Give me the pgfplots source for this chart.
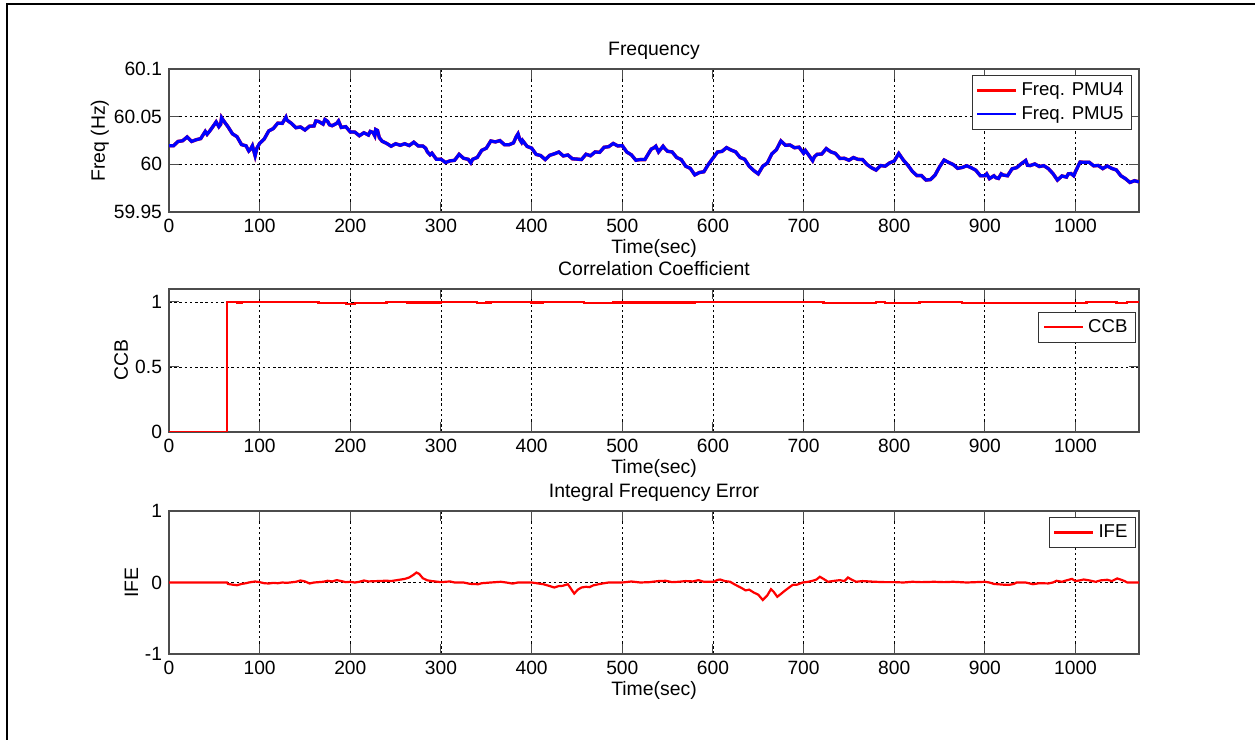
\documentclass[border=0pt]{standalone}
\usepackage{pgfplots}
\usepackage{pgfplotstable}
\pgfplotsset{compat=1.18}
\usepackage{fontspec}
\setmainfont{Liberation Sans}

% frequency of PMU4 / PMU5 (the two traces overlap)
\pgfplotstableread{
t f
0 60.0195
5 60.0195
10 60.0240
15 60.0247
20 60.0287
25 60.0240
30 60.0258
35 60.0270
40 60.0345
42 60.0315
45 60.0350
50 60.0417
52 60.0445
55 60.0395
57 60.0420
58 60.0490
60 60.0460
65 60.0395
70 60.0320
75 60.0290
80 60.0207
85 60.0194
88 60.0140
90 60.0160
92 60.0195
95 60.0090
97 60.0170
100 60.0220
105 60.0265
110 60.0350
115 60.0375
120 60.0432
125 60.0430
129 60.0495
130 60.0465
135 60.0430
140 60.0384
145 60.0392
150 60.0360
155 60.0400
160 60.0402
162 60.0455
165 60.0450
170 60.0422
172 60.0470
175 60.0450
177 60.0415
180 60.0405
185 60.0430
187 60.0455
190 60.0387
195 60.0395
200 60.0340
205 60.0338
210 60.0300
215 60.0331
220 60.0307
222 60.0345
225 60.0335
227 60.0300
228 60.0365
230 60.0355
232 60.0280
235 60.0243
240 60.0220
245 60.0190
250 60.0216
255 60.0200
260 60.0216
265 60.0197
270 60.0232
275 60.0193
280 60.0192
283 60.0170
285 60.0131
288 60.0100
290 60.0117
295 60.0053
300 60.0054
305 60.0019
310 60.0036
315 60.0042
320 60.0105
325 60.0063
330 60.0053
333 60.0015
335 60.0053
340 60.0072
345 60.0147
350 60.0169
355 60.0245
360 60.0235
365 60.0249
370 60.0206
375 60.0205
380 60.0225
383 60.0290
385 60.0320
387 60.0260
389 60.0230
390 60.0250
395 60.0188
400 60.0170
405 60.0104
410 60.0092
415 60.0050
420 60.0095
425 60.0110
430 60.0129
435 60.0088
440 60.0098
445 60.0058
450 60.0055
455 60.0050
460 60.0106
465 60.0090
470 60.0130
475 60.0126
480 60.0179
485 60.0185
490 60.0219
495 60.0193
500 60.0196
505 60.0129
510 60.0100
515 60.0043
520 60.0050
525 60.0050
530 60.0130
532 60.0160
535 60.0174
537 60.0190
540 60.0130
545 60.0190
547 60.0165
550 60.0137
555 60.0130
560 60.0072
565 60.0050
570 59.9980
575 59.9958
580 59.9889
585 59.9914
590 59.9922
595 60.0000
600 60.0064
605 60.0129
610 60.0136
615 60.0175
620 60.0150
625 60.0131
630 60.0072
635 60.0053
640 59.9980
645 59.9935
650 59.9900
655 59.9980
660 60.0013
665 60.0110
670 60.0153
675 60.0245
680 60.0200
685 60.0203
690 60.0174
695 60.0180
700 60.0116
702 60.0145
705 60.0106
710 60.0038
712 60.0080
715 60.0105
720 60.0108
722 60.0130
725 60.0165
730 60.0131
735 60.0115
740 60.0062
745 60.0063
750 60.0043
755 60.0071
760 60.0052
765 60.0050
770 59.9998
775 59.9964
780 59.9940
785 59.9987
790 59.9981
795 60.0015
800 60.0035
805 60.0114
810 60.0045
815 59.9991
820 59.9926
825 59.9882
830 59.9882
835 59.9835
840 59.9840
845 59.9887
850 59.9974
855 60.0045
860 60.0020
865 59.9998
870 59.9958
875 59.9967
880 59.9985
885 59.9964
890 59.9938
895 59.9880
900 59.9880
902 59.9900
905 59.9850
910 59.9880
912 59.9860
915 59.9852
918 59.9900
920 59.9888
925 59.9880
930 59.9953
935 59.9965
940 60.0005
945 60.0040
947 59.9990
950 59.9987
955 60.0004
960 59.9977
965 59.9986
970 59.9955
975 59.9904
980 59.9835
985 59.9878
990 59.9866
992 59.9900
995 59.9903
998 59.9880
1000 59.9925
1005 60.0024
1010 60.0021
1015 60.0022
1020 59.9984
1025 59.9988
1030 59.9955
1035 59.9983
1040 59.9957
1045 59.9941
1050 59.9880
1055 59.9850
1060 59.9810
1065 59.9828
1070 59.9816
}\freqdata

% correlation coefficient, piecewise constant
\pgfplotstableread{
t c
0 0
64 1.0
75 0.995
80 1.0
165 0.993
195 0.985
205 0.993
240 1.0
263 0.995
300 1.0
340 0.99
350 0.995
355 1.0
400 0.995
412 1.0
458 0.99
490 0.995
580 1.0
722 0.993
780 1.0
790 0.993
828 1.0
875 0.993
1012 1.0
1045 0.99
1057 1.0
1070 1.0
}\ccbdata

% integral frequency error
\pgfplotstableread{
t e
0 0
64 0
65 -0.02
70 -0.03
75 -0.038
80 -0.02
85 -0.01
88 0
95 0.014
100 0.005
105 -0.01
110 -0.014
115 -0.005
120 -0.01
125 0
130 -0.005
140 0.01
145 0.028
150 0.015
155 -0.014
160 0
170 0.01
175 0.024
180 0.015
185 0.033
190 0.02
195 0.005
200 0.01
205 0
210 0.01
215 0.028
220 0.015
230 0.02
240 0.025
245 0.02
250 0.03
256 0.042
260 0.05
265 0.07
270 0.11
273 0.14
276 0.12
280 0.06
285 0.03
290 0.02
300 0.005
305 0.01
310 0.015
315 0
325 0
332 -0.019
341 -0.024
345 -0.01
355 0
366 0.01
372 0
379 -0.015
385 0
400 0
413 -0.024
420 -0.05
425 -0.07
430 -0.05
434 -0.047
440 -0.024
443 -0.08
447 -0.155
451 -0.1
455 -0.07
460 -0.06
464 -0.065
468 -0.04
474 -0.024
480 -0.01
485 0
500 0
510 0.014
520 0
530 0.005
540 0.02
548 0.024
555 0.005
562 0.01
570 0.02
578 0.015
584 0.033
590 0.01
601 0.01
605 0.035
608 0.042
613 0.02
619 0.01
623 -0.02
627 -0.047
632 -0.08
636 -0.11
640 -0.1
645 -0.14
650 -0.17
655 -0.245
660 -0.18
664 -0.094
667 -0.13
671 -0.2
675 -0.16
679 -0.118
683 -0.08
688 -0.033
693 -0.03
699 0
705 0.01
710 0.024
714 0.04
718 0.08
722 0.05
727 0.01
732 0.02
740 0.033
745 0.02
749 0.07
753 0.04
758 0.01
765 0.02
772 0.015
779 0.01
790 0.005
801 0.005
810 0
820 0.01
830 0.005
844 0.01
855 0.005
865 0.01
880 0
890 0.005
900 0.01
905 0
910 -0.02
914 -0.024
920 -0.03
927 -0.033
932 -0.02
935 0
945 0
953 -0.024
960 -0.01
970 -0.013
975 0
979 0.024
985 0.01
990 0.03
996 0.05
1000 0.02
1005 0.03
1009 0.042
1015 0.03
1022 0.01
1028 0.03
1035 0.038
1040 0.02
1046 0.057
1050 0.04
1054 0.02
1057 0
1070 0
}\ifedata

\pgfplotsset{
  matlab/.style={
    scale only axis,
    width=485pt, height=71.5pt,
    anchor=south west,
    xmin=0, xmax=1070,
    xtick={0,100,...,1000},
    grid=major,
    grid style={black, line width=0.4pt, dash pattern=on 1.3pt off 1.3pt},
    axis line style={black!70, line width=0.6pt},
    major tick style={black!70, line width=0.5pt},
    major tick length=4.8pt,
    tick align=inside,
    xtick pos=both, ytick pos=both,
    tick label style={font=\fontsize{9.6}{11}\selectfont, /pgf/number format/assume math mode=true},
    /pgf/number format/1000 sep={},
    label style={font=\fontsize{9.7}{11}\selectfont},
    title style={font=\fontsize{9.7}{11}\selectfont, at={(0.5,1)}, anchor=base, yshift=0.7pt},
    xlabel={Time(sec)},
    xlabel style={at={(axis description cs:0.5,0)}, anchor=base, yshift=-20.8pt},
    legend style={font=\fontsize{9.3}{11}\selectfont, draw=black!80, line width=0.5pt,
      fill=white, inner xsep=2pt, inner ysep=1.5pt, cells={anchor=west}, anchor=north east},
    legend image code/.code={\draw[#1, line width=1.2pt] (0pt,0pt) -- (19.5pt,0pt);},
  }
}

\begin{document}
\begin{tikzpicture}
\path[use as bounding box] (0,0) rectangle (627.5pt,370pt);
\draw[line width=0.85pt] (3.35pt,0pt) -- (3.35pt,368pt) -- (627.5pt,368pt);

% Frequency
\begin{axis}[matlab,
    at={(84.5pt,264pt)},
    ymin=59.95, ymax=60.1,
    ytick={59.95,60,60.05,60.1},
    yticklabels={59.95,60,60.05,60.1},
    ylabel={Freq (Hz)},
    ylabel style={at={(axis description cs:-0.066,0.5)}, anchor=base},
    title={Frequency},
    legend style={at={(0.9928,0.958)}},
  ]
  \addplot[red, line width=1.7pt] table[x=t, y=f] {\freqdata};
  \addlegendentry{Freq. PMU4}
  \addplot[blue, line width=1.6pt] table[x=t, y=f] {\freqdata};
  \addlegendentry{Freq. PMU5}
\end{axis}

% Correlation coefficient
\begin{axis}[matlab,
    at={(84.5pt,154pt)},
    ymin=0, ymax=1.1,
    ytick={0,0.5,1},
    yticklabels={0,0.5,1},
    ylabel={CCB},
    ylabel style={at={(axis description cs:-0.0425,0.5)}, anchor=base},
    title={Correlation Coefficient},
    legend style={at={(0.9969,0.841)}},
  ]
  \addplot[red, line width=1.2pt, const plot] table[x=t, y=c] {\ccbdata};
  \addlegendentry{CCB}
\end{axis}

% Integral frequency error
\begin{axis}[matlab,
    at={(84.5pt,43pt)},
    ymin=-1, ymax=1,
    ytick={-1,0,1},
    yticklabels={-1,0,1},
    ylabel={IFE},
    ylabel style={at={(axis description cs:-0.0318,0.5)}, anchor=base},
    title={Integral Frequency Error},
    legend style={at={(0.9969,0.956)}},
  ]
  \addplot[red, line width=1.1pt] table[x=t, y=e] {\ifedata};
  \addlegendentry{IFE}
\end{axis}
\end{tikzpicture}
\end{document}
